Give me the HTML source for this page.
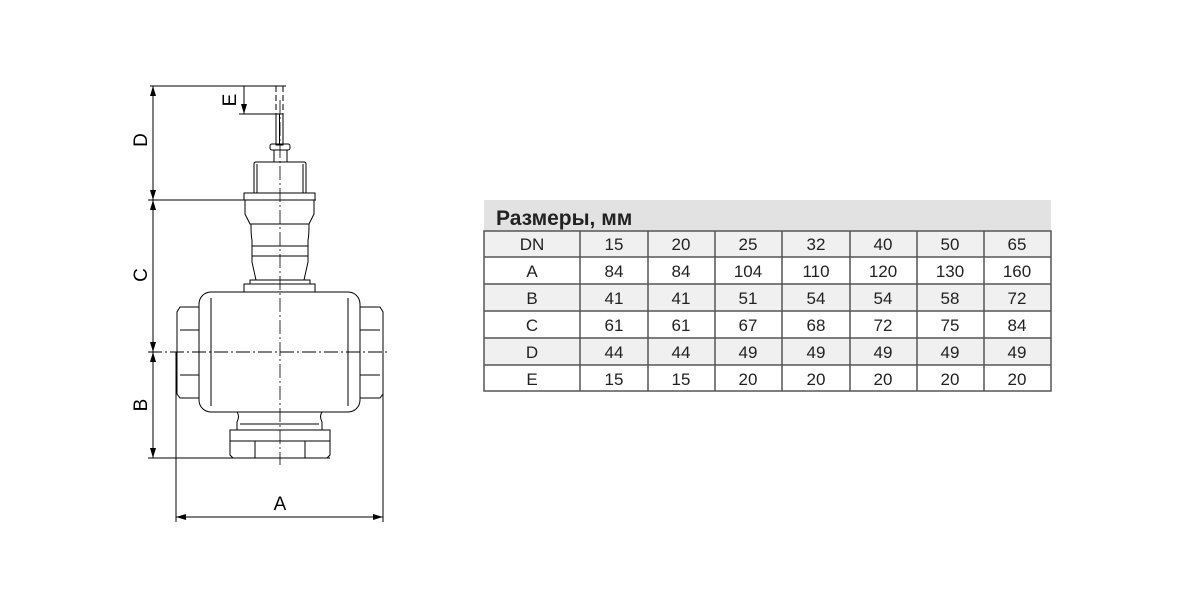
<!DOCTYPE html>
<html><head><meta charset="utf-8"><style>
body{margin:0;width:1200px;height:600px;background:#fff;overflow:hidden;position:relative;font-family:"Liberation Sans",sans-serif}
svg{position:absolute;left:0;top:0}
</style></head><body>
<svg width="1200" height="600" viewBox="0 0 1200 600" font-family="Liberation Sans, sans-serif">
<defs>
<marker id="ar" markerWidth="10" markerHeight="6" refX="10" refY="3" orient="auto-start-reverse" markerUnits="userSpaceOnUse"><path d="M0,0 L10,3 L0,6 Z" fill="#000"/></marker>
</defs>
<g stroke="#000" stroke-width="1" fill="none">
<line x1="150" y1="86" x2="286" y2="86"/>
<line x1="153" y1="86" x2="153" y2="200" marker-start="url(#ar)" marker-end="url(#ar)"/>
<line x1="148" y1="200" x2="316" y2="200"/>
<line x1="153" y1="200" x2="153" y2="352" marker-start="url(#ar)" marker-end="url(#ar)"/>
<line x1="153" y1="352" x2="153" y2="458" marker-start="url(#ar)" marker-end="url(#ar)"/>
<line x1="148" y1="458" x2="330" y2="458"/>
<line x1="244" y1="86" x2="244" y2="114" marker-end="url(#ar)"/>
<line x1="239" y1="114" x2="283" y2="114"/>
<line x1="176" y1="352" x2="176" y2="522"/>
<line x1="383" y1="352" x2="383" y2="522"/>
<line x1="176" y1="517" x2="383" y2="517" marker-start="url(#ar)" marker-end="url(#ar)"/>
<line x1="276" y1="86" x2="276" y2="114" stroke-dasharray="6,3"/>
<line x1="283" y1="86" x2="283" y2="114" stroke-dasharray="6,3"/>
<rect x="276" y="114" width="7" height="31"/>
<line x1="279.5" y1="114" x2="279.5" y2="145"/>
<rect x="270" y="144" width="20" height="6" rx="2"/>
<rect x="274" y="150" width="13" height="12"/>
<path d="M254,193 L254,164 Q254,162 256,162 L304,162 Q306,162 306,164 L306,193"/>
<line x1="257" y1="164" x2="257" y2="193"/><line x1="303" y1="164" x2="303" y2="193"/>
<rect x="244" y="193" width="71" height="7"/>
<path d="M245,200 L245,214 L250,224 L309,224 L314,214 L314,200"/>
<path d="M251,224 Q251,236 252,240 L252,262 L256,280 L304,280 L308,262 L308,240 Q309,236 309,224"/>
<line x1="252" y1="246" x2="308" y2="246"/><line x1="252" y1="256" x2="308" y2="256"/>
<rect x="250" y="280" width="60" height="4"/>
<rect x="244" y="284" width="71" height="8"/>
<rect x="199" y="292" width="161" height="120" rx="12"/>
<line x1="211" y1="298" x2="211" y2="406"/><line x1="348" y1="298" x2="348" y2="406"/>
<path d="M199,307 L180,307 L177,312 L177,394 L180,398 L199,398"/>
<line x1="180" y1="330" x2="199" y2="330"/><line x1="180" y1="375" x2="199" y2="375"/>
<path d="M360,307 L380,307 L383,312 L383,394 L380,398 L360,398"/>
<line x1="360" y1="330" x2="380" y2="330"/><line x1="360" y1="375" x2="380" y2="375"/>
<path d="M237,412 Q240,416 237,422 L237,430 L322,430 L322,422 Q319,416 322,412"/>
<line x1="240" y1="424" x2="319" y2="424"/>
<path d="M230,430 L230,455 L233,458 L327,458 L330,455 L330,430 Z"/>
<line x1="230" y1="441" x2="330" y2="441"/>
<line x1="255" y1="441" x2="255" y2="458"/><line x1="305" y1="441" x2="305" y2="458"/>
<line x1="148" y1="352" x2="388" y2="352" stroke-dasharray="14,3,2,3"/>
<line x1="280" y1="100" x2="280" y2="465" stroke-dasharray="14,3,2,3" stroke-width="0.8"/>
</g>
<g font-size="19" fill="#000" text-anchor="middle">
<text x="280" y="510">A</text>
<text transform="translate(147,140) rotate(-90)">D</text>
<text transform="translate(147,275) rotate(-90)">C</text>
<text transform="translate(147,405) rotate(-90)">B</text>
<text transform="translate(236,100) rotate(-90)">E</text>
</g>
<rect x="484" y="200" width="567" height="31" fill="#e2e2e2"/>
<text x="496" y="225" font-size="21" font-weight="bold" fill="#222">Размеры, мм</text>
<g>
<rect x="484" y="231" width="567" height="26" fill="#f0f0f0"/>
<rect x="484" y="284" width="567" height="27" fill="#f0f0f0"/>
<rect x="484" y="338" width="567" height="27" fill="#f0f0f0"/>
</g>
<g stroke="#555" stroke-width="1.5" fill="none">
<rect x="484" y="231" width="567" height="160"/>
<line x1="484" y1="257" x2="1051" y2="257"/><line x1="484" y1="284" x2="1051" y2="284"/>
<line x1="484" y1="311" x2="1051" y2="311"/><line x1="484" y1="338" x2="1051" y2="338"/>
<line x1="484" y1="365" x2="1051" y2="365"/>
<line x1="580" y1="231" x2="580" y2="391"/><line x1="648" y1="231" x2="648" y2="391"/>
<line x1="715" y1="231" x2="715" y2="391"/><line x1="782" y1="231" x2="782" y2="391"/>
<line x1="850" y1="231" x2="850" y2="391"/><line x1="917" y1="231" x2="917" y2="391"/>
<line x1="984" y1="231" x2="984" y2="391"/>
</g>
<g font-size="17" fill="#222" text-anchor="middle">
<g transform="translate(0,250)"><text x="532">DN</text><text x="614">15</text><text x="681">20</text><text x="748">25</text><text x="816">32</text><text x="883">40</text><text x="950">50</text><text x="1017">65</text></g>
<g transform="translate(0,277)"><text x="532">A</text><text x="614">84</text><text x="681">84</text><text x="748">104</text><text x="816">110</text><text x="883">120</text><text x="950">130</text><text x="1017">160</text></g>
<g transform="translate(0,304)"><text x="532">B</text><text x="614">41</text><text x="681">41</text><text x="748">51</text><text x="816">54</text><text x="883">54</text><text x="950">58</text><text x="1017">72</text></g>
<g transform="translate(0,331)"><text x="532">C</text><text x="614">61</text><text x="681">61</text><text x="748">67</text><text x="816">68</text><text x="883">72</text><text x="950">75</text><text x="1017">84</text></g>
<g transform="translate(0,358)"><text x="532">D</text><text x="614">44</text><text x="681">44</text><text x="748">49</text><text x="816">49</text><text x="883">49</text><text x="950">49</text><text x="1017">49</text></g>
<g transform="translate(0,385)"><text x="532">E</text><text x="614">15</text><text x="681">15</text><text x="748">20</text><text x="816">20</text><text x="883">20</text><text x="950">20</text><text x="1017">20</text></g>
</g>
</svg>
</body></html>
